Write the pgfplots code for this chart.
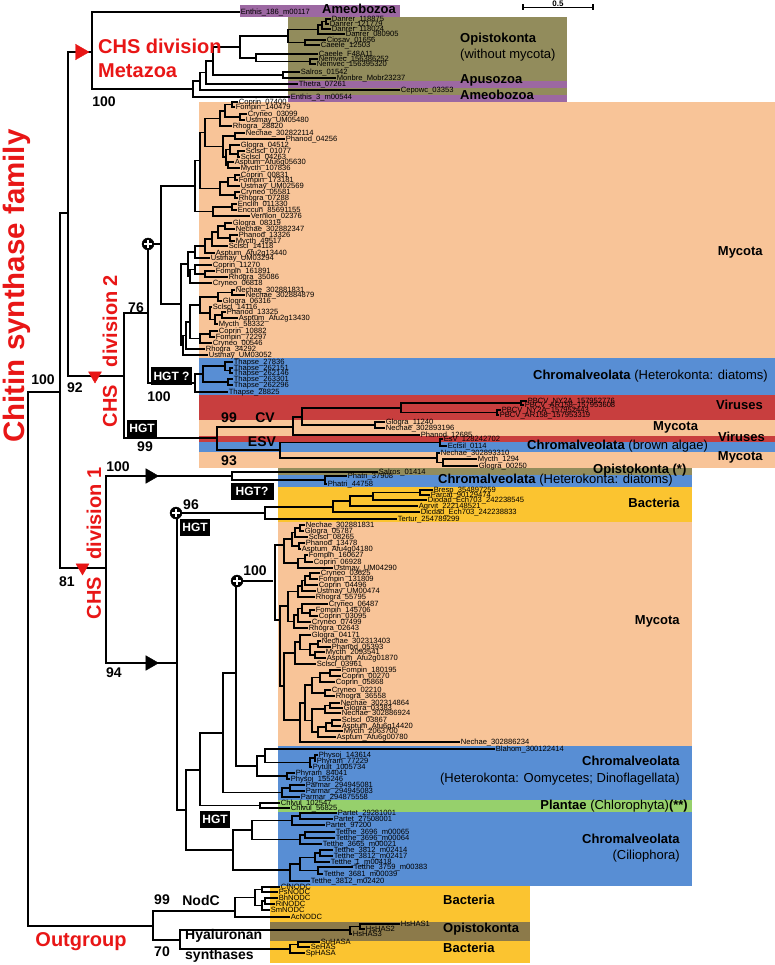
\documentclass[border=0pt]{standalone}
\usepackage{pgfplots}
\pgfplotsset{compat=1.18}
\usepackage{fontspec}
\setmainfont{Liberation Sans}
\definecolor{peach}{RGB}{248,196,152}
\definecolor{cblue}{RGB}{88,142,212}
\definecolor{cred}{RGB}{200,62,62}
\definecolor{olive}{RGB}{146,140,92}
\definecolor{purp}{RGB}{156,104,162}
\definecolor{yel}{RGB}{251,196,48}
\definecolor{grn}{RGB}{150,208,108}
\definecolor{dolive}{RGB}{140,122,74}
\definecolor{rtext}{RGB}{232,22,22}
\newcommand{\lff}{\fontsize{7.6}{8}\selectfont}
\newcommand{\gf}{\fontsize{13}{15}\selectfont}
\newcommand{\nf}{\fontsize{14}{16}\selectfont\bfseries}
\newcommand{\rf}{\fontsize{20}{24}\selectfont\bfseries\color{rtext}}
\tikzset{br/.style={black, line width=1.6pt, line join=miter},
  lf/.style={anchor=mid west, font=\lff, inner sep=0.6pt}}
\newcommand{\E}[5]{\addplot[br] coordinates {(#3,#2) (#1,#2) (#1,#4) (#5,#4)};}
\newcommand{\Lf}[3]{\node[lf] at (#1,#2) {#3};}
\newcommand{\R}[5]{\addplot[fill=#5, draw=none] coordinates {(#1,#2) (#3,#2) (#3,#4) (#1,#4)};}
\newcommand{\G}[4]{\node[anchor=mid #1, font=\gf, inner sep=0pt] at (#2,#3) {#4};}
\newcommand{\Nm}[3]{\node[font=\nf, inner sep=0pt] at (#1,#2) {#3};}
\newcommand{\HGT}[3]{\node[fill=black, text=white, font=\fontsize{12}{14}\selectfont\bfseries, inner sep=0pt, minimum height=17pt, minimum width=#3] at (#1,#2) {HGT};}
\begin{document}
\begin{tikzpicture}
\begin{axis}[width=775pt, height=965pt, scale only axis, xmin=0, xmax=775, ymin=0, ymax=965,
  y dir=reverse, hide axis, clip=false]
% full-page frame (invisible) so the picture spans the whole axis area
\addplot[draw=none] coordinates {(0,0) (775,0) (775,965) (0,965)};
% ---------------- background bands ----------------
\R{240}{5}{400}{17}{purp}
\R{288}{17}{567}{102}{olive}
\R{288}{81}{567}{88}{purp}
\R{288}{95}{567}{102}{purp}
\R{199}{102}{775}{358}{peach}
\R{199}{358}{775}{395}{cblue}
\R{199}{395}{775}{420}{cred}
\R{199}{420}{775}{436}{peach}
\R{199}{436}{775}{442}{cred}
\R{199}{442}{775}{452}{cblue}
\R{199}{452}{775}{468}{peach}
\R{278}{468}{692}{475}{olive}
\R{278}{475}{692}{487}{cblue}
\R{278}{487}{692}{522}{yel}
\R{278}{522}{692}{746}{peach}
\R{278}{746}{692}{800}{cblue}
\R{278}{800}{692}{812}{grn}
\R{278}{812}{692}{886}{cblue}
\R{270}{886}{530}{922}{yel}
\R{270}{922}{530}{941}{dolive}
\R{270}{941}{530}{963}{yel}
% ---------------- backbone ----------------
\E{28}{392}{60}{926}{153}
\E{60}{213}{68}{568}{106}
\E{68}{52}{92}{376}{124}
% Metazoa
\E{326}{19}{331}{24}{329}
\E{322}{21.5}{326}{29}{331}
\E{318}{25}{322}{34}{345}
\E{305}{40}{326}{45}{320}
\E{288}{29.5}{318}{42.5}{305}
\E{310}{59}{318}{64}{316}
\E{256}{54}{318}{61.5}{310}
\E{240}{36}{288}{58}{256}
\E{283}{72}{300}{78}{336}
\E{213}{47}{240}{75}{283}
\E{206}{61}{213}{84}{298}
\E{200}{72.5}{206}{90}{400}
\E{193}{81}{200}{97}{290}
\E{92}{12}{240}{89}{193}
% division 2
\E{124}{313}{148}{438}{217}
\E{148}{244}{161}{383}{195}
\E{161}{186}{195}{304}{181}
% upper mycota
\E{232}{102}{238}{107}{235}
\E{240}{114}{247}{120}{245}
\E{225}{104.5}{232}{117}{240}
\E{220}{111}{225}{126}{232}
\E{235}{133}{245}{139}{285}
\E{238}{151}{245}{157}{240}
\E{230}{145}{240}{154}{238}
\E{228}{162}{234}{168}{240}
\E{226}{149.5}{230}{165}{228}
\E{223}{136}{235}{157}{226}
\E{205}{118.5}{220}{146.5}{223}
\E{235}{175}{240}{180}{238}
\E{228}{177.5}{235}{186}{240}
\E{235}{192}{240}{198}{238}
\E{220}{182}{228}{195}{235}
\E{200}{132.5}{205}{188.5}{220}
\E{232}{204}{237}{210}{237}
\E{213}{207}{232}{216}{250}
\E{195}{160.5}{200}{211.5}{213}
% lower mycota
\E{225}{223}{232}{229}{235}
\E{230}{235}{238}{241}{235}
\E{218}{226}{225}{238}{230}
\E{212}{232}{218}{246}{228}
\E{205}{239}{212}{253}{215}
\E{195}{246}{205}{258}{210}
\E{205}{271}{215}{277}{228}
\E{195}{265}{212}{274}{205}
\E{190}{269.5}{195}{283}{212}
\E{188}{252}{195}{276}{190}
\E{232}{290}{235}{295}{245}
\E{218}{292.5}{232}{301}{222}
\E{222}{312}{226}{318}{238}
\E{215}{315}{222}{324}{218}
\E{210}{307}{212}{319.5}{215}
\E{200}{297}{218}{313}{210}
\E{210}{331}{218}{337}{215}
\E{200}{334}{210}{343}{212}
\E{190}{305}{200}{338.5}{200}
\E{186}{322}{190}{349}{205}
\E{183}{335.5}{186}{355}{208}
\E{181}{264}{188}{345}{183}
% diatoms
\E{230}{368}{233}{373}{233}
\E{225}{362}{233}{370.5}{230}
\E{228}{379}{233}{385}{233}
\E{203}{366}{225}{382}{228}
\E{195}{374}{203}{392}{228}
% HGT clade
\E{521}{401}{527}{405}{524}
\E{497}{410}{501}{415}{499}
\E{401}{403}{521}{412.5}{497}
\E{375}{422}{385}{428}{385}
\E{302}{408}{401}{425}{375}
\E{293}{417}{302}{435}{420}
\E{440}{439}{443}{446}{447}
\E{443}{459}{477}{466}{478}
\E{437}{453}{440}{462.5}{443}
\E{280}{442.5}{440}{458}{437}
\E{217}{427}{293}{450}{280}
% division 1
\E{106}{476}{232}{663}{177}
\E{325}{476}{347}{484}{327}
\E{232}{472}{378}{480}{325}
\E{420}{490}{433}{495}{430}
\E{373}{492.5}{420}{500}{427}
\E{350}{496}{373}{506}{418}
\E{333}{501}{350}{512}{420}
\E{265}{507}{333}{519}{397}
\E{177}{513}{265}{810}{186}
\E{186}{770}{200}{850}{233}
\E{200}{733}{223}{805.5}{260}
\E{223}{673}{236}{792.5}{282}
\E{236}{581}{273}{766}{257}
% mycota 2
\E{300}{525}{305}{531}{304}
\E{295}{528}{300}{537}{308}
\E{299}{543}{305}{549}{301}
\E{292}{532.5}{295}{546}{299}
\E{305}{555}{308}{562}{313}
\E{298}{558.5}{305}{568}{333}
\E{284}{539}{292}{563}{298}
\E{310}{573}{320}{579}{318}
\E{305}{576}{310}{585}{318}
\E{302}{580.5}{305}{591}{316}
\E{298}{586}{302}{597}{315}
\E{310}{610}{315}{616}{318}
\E{302}{604}{328}{613}{310}
\E{298}{608.5}{302}{622}{311}
\E{294}{615}{298}{628}{308}
\E{288}{591.5}{298}{621.5}{294}
\E{318}{641}{321}{647}{331}
\E{315}{652}{325}{658}{326}
\E{310}{644}{318}{655}{315}
\E{300}{635}{311}{649.5}{310}
\E{295}{642}{300}{664}{316}
\E{330}{670}{341}{676}{341}
\E{320}{673}{330}{682}{335}
\E{325}{690}{331}{696}{335}
\E{312}{677.5}{320}{693}{325}
\E{330}{703}{340}{708}{343}
\E{325}{705.5}{330}{713}{341}
\E{332}{720}{341}{726}{341}
\E{326}{723}{332}{731}{343}
\E{318}{727}{326}{737}{336}
\E{312}{709}{325}{732}{318}
\E{305}{685}{312}{720.5}{312}
\E{300}{703}{305}{742}{460}
\E{284}{653}{295}{720}{300}
\E{280}{606}{288}{686}{284}
\E{275}{545}{284}{620}{280}
% oomycetes etc
\E{315}{755}{318}{761}{316}
\E{310}{758}{315}{767}{312}
\E{265}{749}{495}{762.5}{310}
\E{287}{773}{295}{779}{290}
\E{257}{756}{265}{776}{287}
\E{290}{785}{305}{791}{305}
\E{282}{788}{290}{797}{300}
\E{260}{803}{280}{808}{290}
% ciliophora
\E{300}{813}{337}{819}{333}
\E{292}{816}{300}{825}{325}
\E{305}{832}{335}{838}{335}
\E{300}{835}{305}{844}{322}
\E{252}{820.5}{292}{839.5}{300}
\E{320}{850}{333}{856}{333}
\E{315}{853}{320}{862}{330}
\E{318}{867}{353}{874}{323}
\E{300}{857.5}{315}{870.5}{318}
\E{290}{864}{300}{881}{310}
\E{233}{830}{252}{870}{290}
% outgroup
\E{262}{887}{280}{892}{278}
\E{265}{898}{278}{904}{275}
\E{262}{901}{265}{910}{270}
\E{255}{889.5}{262}{905.5}{262}
\E{235}{897.5}{255}{917}{290}
\E{360}{924}{400}{929}{365}
\E{350}{926.5}{360}{934}{352}
\E{298}{942}{320}{947}{310}
\E{290}{944.5}{298}{953}{305}
\E{180}{930}{350}{949}{290}
\E{153}{911}{235}{940}{180}
% scale bar
\addplot[black, line width=1.3pt] coordinates {(523,7.5) (593,7.5)};
\addplot[black, line width=1.3pt] coordinates {(523,4.5) (523,10.5)};
\addplot[black, line width=1.3pt] coordinates {(593,4.5) (593,10.5)};
% ---------------- markers ----------------
\addplot[only marks, mark=triangle*, mark size=9pt, rtext, mark options={rotate=-90}] coordinates {(80,52)};
\addplot[only marks, mark=triangle*, mark size=7.5pt, rtext, mark options={rotate=180}] coordinates {(95,375.5) (82.5,567.5)};
\addplot[only marks, mark=triangle*, mark size=8.5pt, black, mark options={rotate=-90}] coordinates {(150,476) (150,663)};
\addplot[only marks, mark=*, mark size=6pt, black] coordinates {(148,244) (176,513) (237,581)};
\addplot[only marks, mark=+, mark size=4pt, white, mark options={line width=1.6pt}] coordinates {(148,244) (176,513) (237,581)};
% ---------------- leaf labels ----------------
\Lf{240}{12}{Enthis\_186\_m00117}
\Lf{331}{19}{Danrer\_118875}
\Lf{329}{24}{Danrer\_121779}
\Lf{331}{29}{Danrer\_118024}
\Lf{345}{34}{Danrer\_080905}
\Lf{326}{40}{Ciosav\_01656}
\Lf{320}{45}{Caeele\_12503}
\Lf{318}{54}{Caeele\_F48A11}
\Lf{318}{59}{Nemvec\_156386252}
\Lf{316}{64}{Nemvec\_156395320}
\Lf{300}{72}{Salros\_01542}
\Lf{336}{78}{Monbre\_Mobr23237}
\Lf{298}{84}{Thetra\_07261}
\Lf{400}{90}{Cepowc\_03353}
\Lf{290}{97}{Enthis\_3\_m00544}
\Lf{238}{102}{Coprin\_07400}
\Lf{235}{107}{Fompin\_140479}
\Lf{247}{114}{Cryneo\_03099}
\Lf{245}{120}{Ustmay\_UM05480}
\Lf{232}{126}{Rhogra\_28820}
\Lf{245}{133}{Nechae\_302822114}
\Lf{285}{139}{Phanod\_04256}
\Lf{240}{145}{Glogra\_04512}
\Lf{245}{151}{Sclscl\_01077}
\Lf{240}{157}{Sclscl\_04263}
\Lf{234}{162}{Asptum\_Afu6g05630}
\Lf{240}{168}{Mycth\_107836}
\Lf{240}{175}{Coprin\_00831}
\Lf{238}{180}{Fompin\_173181}
\Lf{240}{186}{Ustmay\_UM02569}
\Lf{240}{192}{Cryneo\_05581}
\Lf{238}{198}{Rhogra\_07288}
\Lf{237}{204}{Enclin\_011330}
\Lf{237}{210}{Enccun\_85691155}
\Lf{250}{216}{Vernion\_02376}
\Lf{232}{223}{Glogra\_08319}
\Lf{235}{229}{Nechae\_302882347}
\Lf{238}{235}{Phanod\_13326}
\Lf{235}{241}{Mycth\_49517}
\Lf{228}{246}{Sclscl\_14118}
\Lf{215}{253}{Asptum\_Afu2g13440}
\Lf{210}{258}{Ustmay\_UM03294}
\Lf{212}{265}{Coprin\_11270}
\Lf{215}{271}{Fompin\_161891}
\Lf{228}{277}{Rhogra\_35086}
\Lf{212}{283}{Cryneo\_06818}
\Lf{235}{290}{Nechae\_302881831}
\Lf{245}{295}{Nechae\_302884879}
\Lf{222}{301}{Glogra\_06316}
\Lf{212}{307}{Sclscl\_14116}
\Lf{226}{312}{Phanod\_13325}
\Lf{238}{318}{Asptum\_Afu2g13430}
\Lf{218}{324}{Mycth\_58332}
\Lf{218}{331}{Coprin\_10882}
\Lf{215}{337}{Fompin\_72297}
\Lf{212}{343}{Cryneo\_00546}
\Lf{205}{349}{Rhogra\_34292}
\Lf{208}{355}{Ustmay\_UM03052}
\Lf{233}{362}{Thapse\_27836}
\Lf{233}{368}{Thapse\_262151}
\Lf{233}{373}{Thapse\_262146}
\Lf{233}{379}{Thapse\_263301}
\Lf{233}{385}{Thapse\_262296}
\Lf{228}{392}{Thapse\_28825}
\Lf{527}{401}{PBCV\_NY2A\_157952776}
\Lf{524}{405}{PBCV\_AR158\_157953608}
\Lf{501}{410}{PBCV\_NY2A\_157952443}
\Lf{499}{415}{PBCV\_AR158\_157953319}
\Lf{385}{422}{Glogra\_11240}
\Lf{385}{428}{Nechae\_302893196}
\Lf{420}{435}{Phanod\_12685}
\Lf{443}{439}{EsV\_128242702}
\Lf{447}{446}{Ectsil\_0114}
\Lf{440}{453}{Nechae\_302893310}
\Lf{477}{459}{Mycth\_1294}
\Lf{478}{466}{Glogra\_00250}
\Lf{378}{472}{Salros\_01414}
\Lf{347}{476}{Phatri\_37908}
\Lf{327}{484}{Phatri\_44758}
\Lf{433}{490}{Bresp\_354897259}
\Lf{430}{495}{Parcat\_90129474}
\Lf{427}{500}{Diodad\_Ech703\_242238545}
\Lf{418}{506}{Agrvit\_222148521}
\Lf{420}{512}{Dicdad\_Ech703\_242238833}
\Lf{397}{519}{Tertur\_254789299}
\Lf{305}{525}{Nechae\_302881831}
\Lf{304}{531}{Glogra\_05787}
\Lf{308}{537}{Sclscl\_08265}
\Lf{305}{543}{Phanod\_13478}
\Lf{301}{549}{Asptum\_Afu4g04180}
\Lf{308}{555}{Fompin\_160627}
\Lf{313}{562}{Coprin\_06928}
\Lf{333}{568}{Ustmay\_UM04290}
\Lf{320}{573}{Cryneo\_03625}
\Lf{318}{579}{Fompin\_131809}
\Lf{318}{585}{Coprin\_04496}
\Lf{316}{591}{Ustmay\_UM00474}
\Lf{315}{597}{Rhogra\_55795}
\Lf{328}{604}{Cryneo\_06487}
\Lf{315}{610}{Fompin\_145706}
\Lf{318}{616}{Coprin\_03095}
\Lf{311}{622}{Cryneo\_07499}
\Lf{308}{628}{Rhogra\_02643}
\Lf{311}{635}{Glogra\_04171}
\Lf{321}{641}{Nechae\_302313403}
\Lf{331}{647}{Phanod\_05393}
\Lf{325}{652}{Mycth\_2093541}
\Lf{326}{658}{Asptum\_Afu2g01870}
\Lf{316}{664}{Sclscl\_03961}
\Lf{341}{670}{Fompin\_180195}
\Lf{341}{676}{Coprin\_00270}
\Lf{335}{682}{Coprin\_05868}
\Lf{331}{690}{Cryneo\_02210}
\Lf{335}{696}{Rhogra\_36558}
\Lf{340}{703}{Nechae\_302314864}
\Lf{343}{708}{Glogra\_03383}
\Lf{341}{713}{Nechae\_302886924}
\Lf{341}{720}{Sclscl\_03867}
\Lf{341}{726}{Asptum\_Afu6g14420}
\Lf{343}{731}{Mycth\_2063700}
\Lf{336}{737}{Asptum\_Afu6g00780}
\Lf{460}{742}{Nechae\_302886234}
\Lf{495}{749}{Blahom\_300122414}
\Lf{318}{755}{Physoj\_143614}
\Lf{316}{761}{Phyram\_77229}
\Lf{312}{767}{Pytult\_1005734}
\Lf{295}{773}{Phyram\_84041}
\Lf{290}{779}{Physoj\_155246}
\Lf{305}{785}{Parmar\_294945081}
\Lf{305}{791}{Parmar\_294945083}
\Lf{300}{797}{Parmar\_294875558}
\Lf{280}{803}{Chlvul\_102547}
\Lf{290}{808}{Chlvul\_56825}
\Lf{337}{813}{Partet\_29281001}
\Lf{333}{819}{Partet\_27508001}
\Lf{325}{825}{Partet\_97200}
\Lf{335}{832}{Tetthe\_3696\_m00065}
\Lf{335}{838}{Tetthe\_3696\_m00064}
\Lf{322}{844}{Tetthe\_3665\_m00021}
\Lf{333}{850}{Tetthe\_3812\_m02414}
\Lf{333}{856}{Tetthe\_3812\_m02417}
\Lf{330}{862}{Tetthe\_1\_m00418}
\Lf{353}{867}{Tetthe\_3759\_m00383}
\Lf{323}{874}{Tetthe\_3681\_m00039}
\Lf{310}{881}{Tetthe\_3812\_m02420}
\Lf{280}{887}{CfNODC}
\Lf{278}{892}{PsNODC}
\Lf{278}{898}{BhNODC}
\Lf{275}{904}{RiNODC}
\Lf{270}{910}{SmNODC}
\Lf{290}{917}{AcNODC}
\Lf{400}{924}{HsHAS1}
\Lf{365}{929}{HsHAS2}
\Lf{352}{934}{HsHAS3}
\Lf{320}{942}{SuHASA}
\Lf{310}{947}{SeHAS}
\Lf{305}{953}{SpHASA}
% ---------------- group labels ----------------
\G{west}{322}{11}{\textbf{Ameobozoa}}
\G{west}{460}{40}{\textbf{Opistokonta}}
\G{west}{460}{56}{(without mycota)}
\G{west}{460}{81}{\textbf{Apusozoa}}
\G{west}{460}{97}{\textbf{Ameobozoa}}
\G{east}{763}{253}{\textbf{Mycota}}
\G{east}{768}{377}{\textbf{Chromalveolata} (Heterokonta: diatoms)}
\G{east}{763}{407}{\textbf{Viruses}}
\G{west}{653}{428}{\textbf{Mycota}}
\G{east}{765}{439}{\textbf{Viruses}}
\G{west}{527}{447}{\textbf{Chromalveolata} (brown algae)}
\G{east}{763}{458}{\textbf{Mycota}}
\G{west}{593}{471}{\textbf{Opistokonta (*)}}
\G{east}{673}{481}{\textbf{Chromalveolata} (Heterokonta: diatoms)}
\G{east}{680}{505}{\textbf{Bacteria}}
\G{east}{680}{622}{\textbf{Mycota}}
\G{east}{680}{763}{\textbf{Chromalveolata}}
\G{east}{680}{780}{(Heterokonta: Oomycetes; Dinoflagellata)}
\G{east}{688}{807}{\textbf{Plantae} (Chlorophyta)\textbf{(**)}}
\G{east}{680}{841}{\textbf{Chromalveolata}}
\G{east}{680}{857}{(Ciliophora)}
\G{west}{443}{902}{\textbf{Bacteria}}
\G{west}{443}{930}{\textbf{Opistokonta}}
\G{west}{443}{950}{\textbf{Bacteria}}
% ---------------- numbers ----------------
\Nm{104}{102}{100}
\Nm{43}{380}{100}
\Nm{75}{388}{92}
\Nm{136}{308}{76}
\Nm{159}{397}{100}
\Nm{145}{447}{99}
\Nm{229}{418}{99}
\Nm{265}{418}{CV}
\Nm{262}{442}{ESV}
\Nm{229}{461}{93}
\Nm{118}{467}{100}
\Nm{191}{505}{96}
\Nm{255}{571}{100}
\Nm{67}{582}{81}
\Nm{114}{673}{94}
\Nm{162}{900}{99}
\Nm{201}{900}{NodC}
\Nm{162}{952}{70}
\node[anchor=mid west, font=\nf, inner sep=0pt] at (185,937) {Hyaluronan};
\node[anchor=mid west, font=\nf, inner sep=0pt] at (185,957) {synthases};
\node[font=\fontsize{8}{9}\selectfont\bfseries, inner sep=0pt] at (558,3.5) {0.5};
% HGT boxes
\node[fill=black, text=white, font=\fontsize{12}{14}\selectfont\bfseries, inner sep=0pt, minimum height=18pt, minimum width=41pt] at (171.5,376) {HGT ?};
\HGT{142}{428.5}{30pt}
\node[fill=black, text=white, font=\fontsize{12}{14}\selectfont\bfseries, inner sep=0pt, minimum height=17pt, minimum width=43pt] at (252,491) {HGT?};
\HGT{195}{527.5}{30pt}
\HGT{215}{819.5}{30pt}
% ---------------- red titles ----------------
\node[rotate=90, anchor=base, text height=21pt, text depth=5pt, font=\fontsize{29.5}{31}\selectfont\bfseries\color{rtext}, inner sep=0pt] at (24.5,286) {Chitin synthase family};
\node[anchor=mid west, font=\rf, inner sep=0pt] at (98,51) {CHS division};
\node[anchor=mid west, font=\rf, inner sep=0pt] at (98,75) {Metazoa};
\node[rotate=90, font=\rf, inner sep=0pt] at (110,406) {CHS};
\node[rotate=90, font=\rf, inner sep=0pt] at (110,321) {division 2};
\node[rotate=90, font=\rf, inner sep=0pt] at (94,598) {CHS};
\node[rotate=90, font=\rf, inner sep=0pt] at (94,513.5) {division 1};
\node[font=\rf, inner sep=0pt] at (81,942) {Outgroup};
\end{axis}
\end{tikzpicture}
\end{document}
